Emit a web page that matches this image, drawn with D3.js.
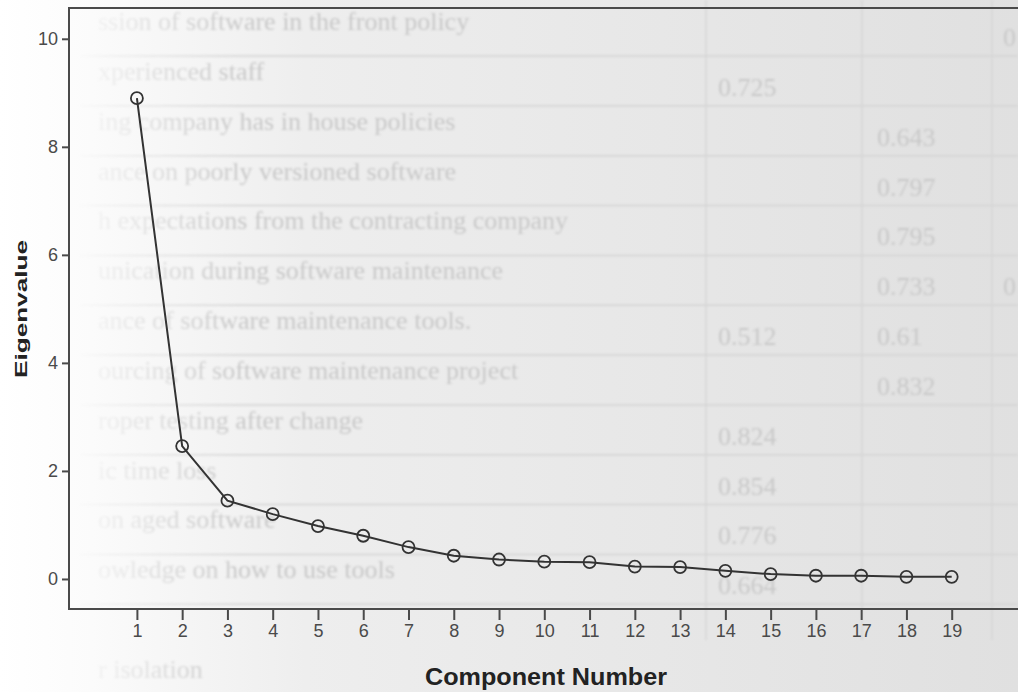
<!DOCTYPE html>
<html>
<head>
<meta charset="utf-8">
<script src="https://cdn.jsdelivr.net/npm/d3@7"></script>
<style>
  html, body { margin: 0; padding: 0; background: #fff; }
  svg { display: block; }
</style>
</head>
<body>
<div id="scree"></div>
<script>
// scree plot values
const components = d3.range(1, 20);
const eigenvalues = [8.90, 2.46, 1.45, 1.20, 0.98, 0.80, 0.59, 0.43, 0.36, 0.32, 0.31, 0.23, 0.22, 0.15, 0.09, 0.06, 0.06, 0.04, 0.04];
const yTicks = [0, 2, 4, 6, 8, 10];

// faint table showing through the paper
const ghostRows = [
  "ssion of software in the front policy",
  "xperienced staff",
  "ing company has in house policies",
  "ance on poorly versioned software",
  "h expectations from the contracting company",
  "unication during software maintenance",
  "ance of software maintenance tools.",
  "ourcing of software maintenance project",
  "roper testing after change",
  "ic time loss",
  "on aged software",
  "owledge on how to use tools",
  "",
  "r isolation"
];
const ghostCol1 = [null, "0.725", null, null, null, null, "0.512", null, "0.824", "0.854", "0.776", "0.664", null, null];
const ghostCol2 = [null, null, "0.643", "0.797", "0.795", "0.733", "0.61", "0.832", null, null, null, null, null, null];
const ghostCol3 = ["0", null, null, null, null, "0", null, null, null, null, null, null, null, null];

const W = 1018, H = 692;
const svg = d3.select("#scree").append("svg").attr("width", W).attr("height", H);

const defs = svg.append("defs");
const bg = defs.append("linearGradient").attr("id", "paper").attr("x1", 0).attr("x2", 1).attr("y1", 0).attr("y2", 0);
bg.append("stop").attr("offset", "0%").attr("stop-color", "#ffffff");
bg.append("stop").attr("offset", "9%").attr("stop-color", "#fbfbfb");
bg.append("stop").attr("offset", "30%").attr("stop-color", "#eeeeee");
bg.append("stop").attr("offset", "100%").attr("stop-color", "#e0e0e0");
const fade = defs.append("linearGradient").attr("id", "fade").attr("gradientUnits", "userSpaceOnUse")
  .attr("x1", 70).attr("x2", 240).attr("y1", 0).attr("y2", 0);
fade.append("stop").attr("offset", "0%").attr("stop-color", "#000");
fade.append("stop").attr("offset", "100%").attr("stop-color", "#fff");
defs.append("mask").attr("id", "ghostMask")
  .append("rect").attr("width", W).attr("height", H).attr("fill", "url(#fade)");
defs.append("filter").attr("id", "soft")
  .append("feGaussianBlur").attr("stdDeviation", 1.3);

svg.append("rect").attr("width", W).attr("height", H).attr("fill", "url(#paper)");

// ghost table
const rowY = d3.scalePoint().domain(d3.range(ghostRows.length)).range([30, 678]);
const ghost = svg.append("g").attr("mask", "url(#ghostMask)").attr("filter", "url(#soft)")
  .attr("fill", "#c9c9c9").attr("font-family", "Liberation Serif, serif").attr("font-size", 26);
ghost.selectAll(".hline").data(d3.range(ghostRows.length - 2)).enter().append("line")
  .attr("x1", 80).attr("x2", W)
  .attr("y1", i => rowY(i) + 26).attr("y2", i => rowY(i) + 26)
  .attr("stroke", "#d4d4d4").attr("stroke-width", 1.5);
[706, 862, 992].forEach(x => {
  ghost.append("line").attr("x1", x).attr("x2", x).attr("y1", 0).attr("y2", 640)
    .attr("stroke", "#d6d6d6").attr("stroke-width", 1.5);
});
ghost.selectAll(".glabel").data(ghostRows).enter().append("text")
  .attr("x", 98).attr("y", (d, i) => rowY(i)).text(d => d);
[[ghostCol1, 718], [ghostCol2, 877], [ghostCol3, 1003]].forEach(([col, x]) => {
  const cells = col.map((v, i) => ({ v, i })).filter(d => d.v);
  ghost.selectAll(null).data(cells).enter().append("text")
    .attr("x", x).attr("y", d => rowY(d.i) + 16).text(d => d.v);
});

// chart
const x = d3.scaleLinear().domain([-0.5, 20.5]).range([69, 1019.6]);
const y = d3.scaleLinear().domain([-0.556, 10.57]).range([609, 8]);

svg.append("rect").attr("x", x(-0.5)).attr("y", y(10.57))
  .attr("width", x(20.5) - x(-0.5)).attr("height", y(-0.556) - y(10.57))
  .attr("fill", "none").attr("stroke", "#4a4a4a").attr("stroke-width", 2);

const xAxis = svg.append("g").attr("transform", `translate(0,${y(-0.556)})`)
  .call(d3.axisBottom(x).tickValues(components).tickSize(11).tickPadding(4).tickFormat(d3.format("d")));
const yAxis = svg.append("g").attr("transform", `translate(${x(-0.5)},0)`)
  .call(d3.axisLeft(y).tickValues(yTicks).tickSize(7).tickPadding(4));
[xAxis, yAxis].forEach(a => {
  a.select(".domain").remove();
  a.selectAll(".tick line").attr("stroke", "#4a4a4a").attr("stroke-width", 2);
  a.selectAll(".tick text").attr("fill", "#4a4a4a")
    .style("font-family", "Liberation Sans, Arial, sans-serif").style("font-size", "18px");
});

const pts = components.map((c, i) => [c, eigenvalues[i]]);
svg.append("path").datum(pts)
  .attr("fill", "none").attr("stroke", "#333").attr("stroke-width", 2)
  .attr("d", d3.line().x(d => x(d[0])).y(d => y(d[1])));
svg.selectAll(".pt").data(pts).enter().append("circle")
  .attr("cx", d => x(d[0])).attr("cy", d => y(d[1])).attr("r", 6)
  .attr("fill", "none").attr("stroke", "#333").attr("stroke-width", 1.8);

svg.append("text").attr("x", 425).attr("y", 685)
  .attr("textLength", 242).attr("lengthAdjust", "spacingAndGlyphs")
  .attr("font-family", "Liberation Sans, Arial, sans-serif").attr("font-weight", "bold")
  .attr("font-size", 23).attr("fill", "#222").text("Component Number");
svg.append("text").attr("transform", "translate(27,378) rotate(-90)")
  .attr("textLength", 138).attr("lengthAdjust", "spacingAndGlyphs")
  .attr("font-family", "Liberation Sans, Arial, sans-serif").attr("font-weight", "bold")
  .attr("font-size", 17).attr("fill", "#222").text("Eigenvalue");
</script>
</body>
</html>
